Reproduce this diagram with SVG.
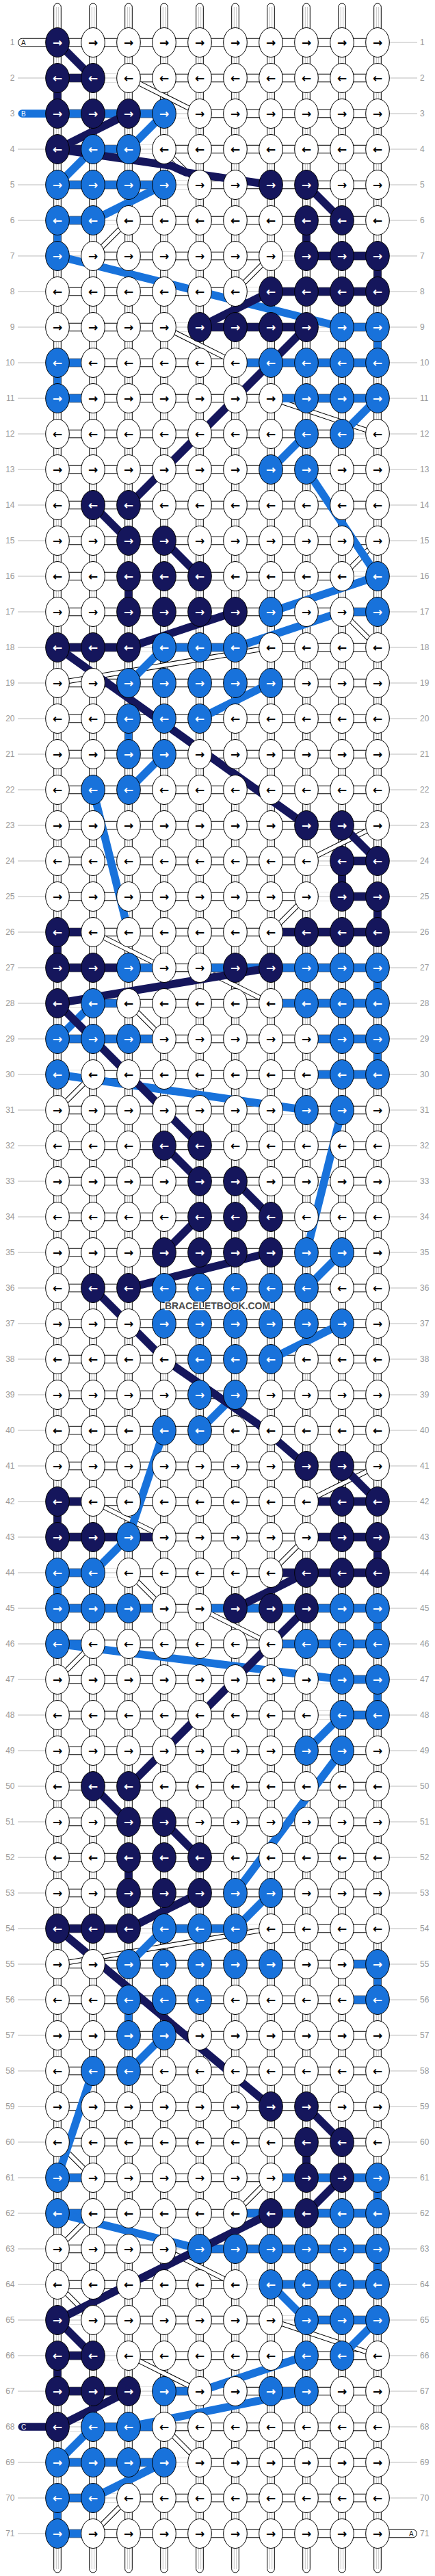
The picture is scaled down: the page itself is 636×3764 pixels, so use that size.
<svg xmlns="http://www.w3.org/2000/svg" xmlns:xlink="http://www.w3.org/1999/xlink" width="636" height="3764" viewBox="0 0 636 3764">
<style>
.a{font-family:'DejaVu Sans',sans-serif;font-weight:bold;font-size:17px;text-anchor:middle}
.kw{fill:#fff;stroke:#000;stroke-width:1}
.kn{fill:#15165c;stroke:#000;stroke-width:1}
.kb{fill:#1872db;stroke:#000;stroke-width:1}
.vc{fill:#fff;stroke:#000;stroke-width:1}
.dn{stroke:#15165c;stroke-width:11.5;fill:none}
.db{stroke:#1872db;stroke-width:11.5;fill:none}
.nl{font-family:'Liberation Sans',Arial,sans-serif;font-size:12px;fill:#999;text-anchor:end}
.nr{font-family:'Liberation Sans',Arial,sans-serif;font-size:12px;fill:#999}
.lt{font-family:'Liberation Sans',Arial,sans-serif;font-size:10px}
</style>
<defs>
<pattern id="pg" patternUnits="userSpaceOnUse" x="0" y="36" width="20" height="52"><path d="M0 26H20" stroke="#bbb"/></pattern>
<pattern id="ph" patternUnits="userSpaceOnUse" x="0" y="36" width="52" height="52"><rect y="20.25" width="52" height="11.5" fill="#fff"/><path d="M0 20.25H52M0 31.75H52" stroke="#000"/></pattern>
<g id="wr"><ellipse rx="17.3" ry="21.5" class="kw"/><text class="a" y="6">→</text></g>
<g id="wl"><ellipse rx="17.3" ry="21.5" class="kw"/><text class="a" y="6">←</text></g>
<g id="nr"><ellipse rx="17.3" ry="21.5" class="kn"/><text class="a" y="6" fill="#fff">→</text></g>
<g id="nl"><ellipse rx="17.3" ry="21.5" class="kn"/><text class="a" y="6" fill="#fff">←</text></g>
<g id="br"><ellipse rx="17.3" ry="21.5" class="kb"/><text class="a" y="6" fill="#fff">→</text></g>
<g id="bl"><ellipse rx="17.3" ry="21.5" class="kb"/><text class="a" y="6" fill="#fff">←</text></g>
<g id="g0"><rect x="16" y="-6.5" width="20" height="13" fill="#fff"/><path d="M16 0H36" stroke="#bbb"/></g>
<rect id="gn" y="-5.75" width="52" height="11.5" fill="#15165c"/>
<rect id="gb" y="-5.75" width="52" height="11.5" fill="#1872db"/>
<rect id="vn" x="-5.3" width="10.6" height="52" fill="#15165c"/>
<rect id="vb" x="-5.3" width="10.6" height="52" fill="#1872db"/>
<path id="thin" d="M188 114L292 166M240 218L292 270M188 322L136 374M396 374L344 426M240 478L344 530M396 582L552 634M552 790L500 842M500 894L552 946M396 946L84 998M552 1206L448 1258M448 1310L396 1362M136 1362L240 1414M292 1414L396 1466M188 1466L240 1518M136 1570L84 1622M552 2142L448 2194M136 2194L240 2246M448 2246L396 2298M188 2298L240 2350M292 2350L396 2402M136 2402L84 2454M396 2818L84 2870M84 3130L136 3182M396 3182L344 3234M136 3234L84 3286M240 3286L344 3338M84 3338L136 3390M396 3390L552 3442M188 3442L292 3494M240 3546L292 3598M188 3650L136 3702"/>
</defs>
<rect width="636" height="3764" fill="#fff"/>
<rect id="guides" x="26" y="36" width="584" height="3692" fill="url(#pg)"/>
<g id="connectors">
<g id="columns">
<rect class="vc" x="78.7" y="5" width="10.6" height="3754" rx="5.3"/>
<rect class="vc" x="130.7" y="5" width="10.6" height="3754" rx="5.3"/>
<rect class="vc" x="182.7" y="5" width="10.6" height="3754" rx="5.3"/>
<rect class="vc" x="234.7" y="5" width="10.6" height="3754" rx="5.3"/>
<rect class="vc" x="286.7" y="5" width="10.6" height="3754" rx="5.3"/>
<rect class="vc" x="338.7" y="5" width="10.6" height="3754" rx="5.3"/>
<rect class="vc" x="390.7" y="5" width="10.6" height="3754" rx="5.3"/>
<rect class="vc" x="442.7" y="5" width="10.6" height="3754" rx="5.3"/>
<rect class="vc" x="494.7" y="5" width="10.6" height="3754" rx="5.3"/>
<rect class="vc" x="546.7" y="5" width="10.6" height="3754" rx="5.3"/>
<path d="M82.3 10V3754M85.7 10V3754M134.3 10V3754M137.7 10V3754M186.3 10V3754M189.7 10V3754M238.3 10V3754M241.7 10V3754M290.3 10V3754M293.7 10V3754M342.3 10V3754M345.7 10V3754M394.3 10V3754M397.7 10V3754M446.3 10V3754M449.7 10V3754M498.3 10V3754M501.7 10V3754M550.3 10V3754M553.7 10V3754" stroke="#b4b4b4" stroke-width="0.8"/>
</g>
<rect id="rows" x="84" y="36" width="468" height="3692" fill="url(#ph)"/>
<g id="gaps">
<use href="#g0" x="136" y="114"/><use href="#g0" x="240" y="166"/><use href="#g0" x="188" y="218"/><use href="#g0" x="240" y="270"/><use href="#g0" x="136" y="322"/>
<use href="#g0" x="84" y="374"/><use href="#g0" x="396" y="374"/><use href="#g0" x="344" y="426"/><use href="#g0" x="240" y="478"/><use href="#g0" x="448" y="478"/>
<use href="#g0" x="500" y="634"/><use href="#g0" x="500" y="842"/><use href="#g0" x="188" y="946"/><use href="#g0" x="344" y="946"/>
<use href="#g0" x="448" y="1258"/><use href="#g0" x="448" y="1310"/><use href="#g0" x="84" y="1466"/><use href="#g0" x="84" y="1570"/><use href="#g0" x="396" y="1622"/>
<use href="#g0" x="136" y="2298"/><use href="#g0" x="448" y="2454"/><use href="#g0" x="448" y="2506"/><use href="#g0" x="188" y="2818"/><use href="#g0" x="344" y="2818"/>
<use href="#g0" x="240" y="3286"/><use href="#g0" x="344" y="3338"/><use href="#g0" x="84" y="3390"/><use href="#g0" x="396" y="3390"/><use href="#g0" x="136" y="3442"/>
<use href="#g0" x="188" y="3494"/><use href="#g0" x="84" y="3546"/><use href="#g0" x="240" y="3598"/><use href="#g0" x="136" y="3650"/>
</g>
<g id="thin-threads" fill="none">
<use href="#thin" stroke="#000" stroke-width="7.5"/>
<use href="#thin" stroke="#fff" stroke-width="5.5"/>
</g>
<g id="colored-segments">
<use href="#gn" x="84" y="114"/>
<use href="#gb" x="84" y="166"/><use href="#gb" x="136" y="166"/><use href="#gb" x="188" y="166"/>
<use href="#gn" x="84" y="218"/><use href="#gb" x="136" y="218"/>
<use href="#gb" x="84" y="270"/><use href="#gb" x="136" y="270"/><use href="#gb" x="188" y="270"/>
<use href="#gb" x="84" y="322"/>
<use href="#gn" x="448" y="374"/><use href="#gn" x="500" y="374"/>
<use href="#gn" x="396" y="426"/><use href="#gn" x="448" y="426"/><use href="#gn" x="500" y="426"/>
<use href="#gn" x="292" y="478"/><use href="#gn" x="344" y="478"/><use href="#gn" x="396" y="478"/><use href="#gb" x="500" y="478"/>
<use href="#gb" x="84" y="530"/><use href="#gb" x="344" y="530"/><use href="#gb" x="396" y="530"/><use href="#gb" x="448" y="530"/><use href="#gb" x="500" y="530"/>
<use href="#gb" x="84" y="582"/><use href="#gb" x="396" y="582"/><use href="#gb" x="448" y="582"/><use href="#gb" x="500" y="582"/>
<use href="#gb" x="500" y="894"/>
<use href="#gn" x="84" y="946"/><use href="#gn" x="136" y="946"/><use href="#gb" x="240" y="946"/><use href="#gb" x="292" y="946"/>
<use href="#gn" x="500" y="1258"/><use href="#gn" x="500" y="1310"/>
<use href="#gn" x="84" y="1362"/><use href="#gn" x="396" y="1362"/><use href="#gn" x="448" y="1362"/><use href="#gn" x="500" y="1362"/>
<use href="#gn" x="84" y="1414"/><use href="#gn" x="136" y="1414"/><use href="#gb" x="188" y="1414"/><use href="#gb" x="292" y="1414"/><use href="#gb" x="344" y="1414"/><use href="#gb" x="396" y="1414"/><use href="#gb" x="448" y="1414"/><use href="#gb" x="500" y="1414"/>
<use href="#gb" x="136" y="1466"/><use href="#gb" x="396" y="1466"/><use href="#gb" x="448" y="1466"/><use href="#gb" x="500" y="1466"/>
<use href="#gb" x="84" y="1518"/><use href="#gb" x="136" y="1518"/><use href="#gb" x="188" y="1518"/><use href="#gb" x="448" y="1518"/><use href="#gb" x="500" y="1518"/>
<use href="#gb" x="448" y="1570"/><use href="#gb" x="500" y="1570"/>
<use href="#gn" x="84" y="2194"/><use href="#gn" x="448" y="2194"/><use href="#gn" x="500" y="2194"/>
<use href="#gn" x="84" y="2246"/><use href="#gn" x="136" y="2246"/><use href="#gn" x="188" y="2246"/><use href="#gn" x="448" y="2246"/><use href="#gn" x="500" y="2246"/>
<use href="#gb" x="84" y="2298"/><use href="#gn" x="396" y="2298"/><use href="#gn" x="448" y="2298"/><use href="#gn" x="500" y="2298"/>
<use href="#gb" x="84" y="2350"/><use href="#gb" x="136" y="2350"/><use href="#gb" x="188" y="2350"/><use href="#gb" x="292" y="2350"/><use href="#gb" x="344" y="2350"/><use href="#gb" x="396" y="2350"/><use href="#gb" x="448" y="2350"/><use href="#gb" x="500" y="2350"/>
<use href="#gb" x="84" y="2402"/><use href="#gb" x="396" y="2402"/><use href="#gb" x="448" y="2402"/><use href="#gb" x="500" y="2402"/>
<use href="#gb" x="500" y="2454"/><use href="#gb" x="500" y="2506"/>
<use href="#gn" x="84" y="2818"/><use href="#gn" x="136" y="2818"/><use href="#gb" x="240" y="2818"/><use href="#gb" x="292" y="2818"/>
<use href="#gb" x="500" y="2870"/><use href="#gb" x="500" y="2922"/>
<use href="#gb" x="84" y="3182"/><use href="#gb" x="396" y="3182"/><use href="#gb" x="448" y="3182"/><use href="#gb" x="500" y="3182"/>
<use href="#gb" x="84" y="3234"/><use href="#gb" x="344" y="3234"/><use href="#gb" x="396" y="3234"/><use href="#gb" x="448" y="3234"/><use href="#gb" x="500" y="3234"/>
<use href="#gb" x="292" y="3286"/><use href="#gb" x="344" y="3286"/><use href="#gb" x="396" y="3286"/><use href="#gb" x="448" y="3286"/><use href="#gb" x="500" y="3286"/>
<use href="#gb" x="396" y="3338"/><use href="#gb" x="448" y="3338"/><use href="#gb" x="500" y="3338"/>
<use href="#gb" x="448" y="3390"/><use href="#gb" x="500" y="3390"/>
<use href="#gn" x="84" y="3442"/>
<use href="#gn" x="84" y="3494"/><use href="#gn" x="136" y="3494"/><use href="#gb" x="240" y="3494"/><use href="#gb" x="396" y="3494"/>
<use href="#gb" x="136" y="3546"/><use href="#gb" x="188" y="3546"/>
<use href="#gb" x="84" y="3598"/><use href="#gb" x="136" y="3598"/><use href="#gb" x="188" y="3598"/>
<use href="#gb" x="84" y="3650"/>
<use href="#gb" x="84" y="3702"/>
<use href="#vn" x="84" y="114"/><use href="#vb" x="84" y="322"/><use href="#vn" x="448" y="322"/><use href="#vn" x="552" y="374"/><use href="#vb" x="552" y="478"/><use href="#vb" x="84" y="530"/>
<use href="#vn" x="188" y="842"/><use href="#vb" x="188" y="1050"/><use href="#vn" x="500" y="1258"/><use href="#vn" x="552" y="1310"/><use href="#vn" x="84" y="1362"/><use href="#vb" x="552" y="1414"/><use href="#vb" x="552" y="1518"/>
<use href="#vn" x="84" y="2194"/><use href="#vn" x="552" y="2246"/><use href="#vb" x="84" y="2298"/><use href="#vb" x="552" y="2350"/><use href="#vb" x="552" y="2454"/>
<use href="#vn" x="188" y="2714"/><use href="#vb" x="552" y="2870"/><use href="#vb" x="188" y="2922"/><use href="#vn" x="448" y="3130"/><use href="#vb" x="552" y="3182"/><use href="#vb" x="552" y="3286"/><use href="#vn" x="84" y="3442"/><use href="#vb" x="84" y="3650"/>
</g>
<g id="blue-threads">
<path class="db" d="M240 166L188 218"/><path class="db" d="M136 218L84 270"/><path class="db" d="M240 270L136 322"/><path class="db" d="M84 374L500 478"/>
<path class="db" d="M552 582L500 634"/><path class="db" d="M448 634L396 686"/><path class="db" d="M448 686L552 842"/><path class="db" d="M552 842L396 894"/>
<path class="db" d="M500 894L344 946"/><path class="db" d="M240 946L188 998"/><path class="db" d="M396 998L292 1050"/><path class="db" d="M240 1102L188 1154"/>
<path class="db" d="M136 1154L188 1362"/><path class="db" d="M136 1466L84 1518"/><path class="db" d="M84 1570L448 1622"/><path class="db" d="M500 1622L448 1830"/>
<path class="db" d="M500 1830L448 1882"/><path class="db" d="M500 1934L396 1986"/><path class="db" d="M344 2038L292 2090"/><path class="db" d="M240 2090L188 2246"/>
<path class="db" d="M188 2246L136 2298"/><path class="db" d="M84 2402L500 2454"/><path class="db" d="M500 2506L448 2558"/><path class="db" d="M500 2558L344 2766"/>
<path class="db" d="M396 2766L344 2818"/><path class="db" d="M240 2818L188 2870"/><path class="db" d="M240 2974L188 3026"/><path class="db" d="M136 3026L84 3182"/>
<path class="db" d="M84 3234L292 3286"/><path class="db" d="M396 3338L448 3390"/><path class="db" d="M552 3390L500 3442"/><path class="db" d="M448 3442L292 3494"/>
<path class="db" d="M448 3494L188 3546"/><path class="db" d="M136 3546L84 3598"/><path class="db" d="M240 3598L136 3650"/>
</g>
<g id="navy-threads">
<path class="dn" d="M84 62L136 114"/><path class="dn" d="M188 166L84 218"/><path class="dn" d="M84 218L250 242L272 252L396 270"/><path class="dn" d="M448 270L500 322"/>
<path class="dn" d="M396 426L292 478"/><path class="dn" d="M448 478L188 738"/><path class="dn" d="M136 738L188 790"/><path class="dn" d="M240 790L292 842"/>
<path class="dn" d="M344 894L188 946"/><path class="dn" d="M84 946L448 1206"/><path class="dn" d="M500 1206L552 1258"/><path class="dn" d="M396 1414L84 1466"/>
<path class="dn" d="M84 1466L292 1674"/><path class="dn" d="M240 1674L292 1726"/><path class="dn" d="M344 1726L396 1778"/><path class="dn" d="M292 1778L240 1830"/>
<path class="dn" d="M396 1830L188 1882"/><path class="dn" d="M136 1882L188 1934"/><path class="dn" d="M188 1934L240 1986"/><path class="dn" d="M240 1986L376 2080L448 2142"/>
<path class="dn" d="M500 2142L552 2194"/><path class="dn" d="M448 2298L344 2350"/><path class="dn" d="M448 2350L188 2610"/><path class="dn" d="M136 2610L188 2662"/>
<path class="dn" d="M240 2662L292 2714"/><path class="dn" d="M292 2766L188 2818"/><path class="dn" d="M84 2818L396 3078"/><path class="dn" d="M448 3078L500 3130"/>
<path class="dn" d="M500 3182L448 3234"/><path class="dn" d="M396 3234L84 3390"/><path class="dn" d="M84 3390L136 3442"/><path class="dn" d="M188 3494L84 3546"/>
</g>
</g>
<g id="labels">
<g id="label-a-start"><rect x="26.5" y="56.25" width="58" height="11.5" rx="5.75" fill="#fff" stroke="#000"/><text class="lt" x="31" y="66" fill="#222">A</text></g>
<g id="label-b"><rect x="26.5" y="160.25" width="58" height="11.5" rx="5.75" fill="#1872db"/><text class="lt" x="31" y="170" fill="#fff">B</text></g>
<g id="label-c"><rect x="26.5" y="3540.25" width="58" height="11.5" rx="5.75" fill="#15165c"/><text class="lt" x="31" y="3550" fill="#fff">C</text></g>
<g id="label-a-end"><rect x="551.5" y="3696.25" width="58" height="11.5" rx="5.75" fill="#fff" stroke="#000"/><text class="lt" x="598" y="3706" fill="#222">A</text></g>
</g>
<g id="knots">
<g id="r1" transform="translate(0,62)"><use href="#nr" x="84"/><use href="#wr" x="136"/><use href="#wr" x="188"/><use href="#wr" x="240"/><use href="#wr" x="292"/><use href="#wr" x="344"/><use href="#wr" x="396"/><use href="#wr" x="448"/><use href="#wr" x="500"/><use href="#wr" x="552"/></g>
<g id="r2" transform="translate(0,114)"><use href="#nl" x="84"/><use href="#nl" x="136"/><use href="#wl" x="188"/><use href="#wl" x="240"/><use href="#wl" x="292"/><use href="#wl" x="344"/><use href="#wl" x="396"/><use href="#wl" x="448"/><use href="#wl" x="500"/><use href="#wl" x="552"/></g>
<g id="r3" transform="translate(0,166)"><use href="#nr" x="84"/><use href="#nr" x="136"/><use href="#nr" x="188"/><use href="#br" x="240"/><use href="#wr" x="292"/><use href="#wr" x="344"/><use href="#wr" x="396"/><use href="#wr" x="448"/><use href="#wr" x="500"/><use href="#wr" x="552"/></g>
<g id="r4" transform="translate(0,218)"><use href="#nl" x="84"/><use href="#bl" x="136"/><use href="#bl" x="188"/><use href="#wl" x="240"/><use href="#wl" x="292"/><use href="#wl" x="344"/><use href="#wl" x="396"/><use href="#wl" x="448"/><use href="#wl" x="500"/><use href="#wl" x="552"/></g>
<g id="r5" transform="translate(0,270)"><use href="#br" x="84"/><use href="#br" x="136"/><use href="#br" x="188"/><use href="#br" x="240"/><use href="#wr" x="292"/><use href="#wr" x="344"/><use href="#nr" x="396"/><use href="#nr" x="448"/><use href="#wr" x="500"/><use href="#wr" x="552"/></g>
<g id="r6" transform="translate(0,322)"><use href="#bl" x="84"/><use href="#bl" x="136"/><use href="#wl" x="188"/><use href="#wl" x="240"/><use href="#wl" x="292"/><use href="#wl" x="344"/><use href="#wl" x="396"/><use href="#nl" x="448"/><use href="#nl" x="500"/><use href="#wl" x="552"/></g>
<g id="r7" transform="translate(0,374)"><use href="#br" x="84"/><use href="#wr" x="136"/><use href="#wr" x="188"/><use href="#wr" x="240"/><use href="#wr" x="292"/><use href="#wr" x="344"/><use href="#wr" x="396"/><use href="#nr" x="448"/><use href="#nr" x="500"/><use href="#nr" x="552"/></g>
<g id="r8" transform="translate(0,426)"><use href="#wl" x="84"/><use href="#wl" x="136"/><use href="#wl" x="188"/><use href="#wl" x="240"/><use href="#wl" x="292"/><use href="#wl" x="344"/><use href="#nl" x="396"/><use href="#nl" x="448"/><use href="#nl" x="500"/><use href="#nl" x="552"/></g>
<g id="r9" transform="translate(0,478)"><use href="#wr" x="84"/><use href="#wr" x="136"/><use href="#wr" x="188"/><use href="#wr" x="240"/><use href="#nr" x="292"/><use href="#nr" x="344"/><use href="#nr" x="396"/><use href="#nr" x="448"/><use href="#br" x="500"/><use href="#br" x="552"/></g>
<g id="r10" transform="translate(0,530)"><use href="#bl" x="84"/><use href="#wl" x="136"/><use href="#wl" x="188"/><use href="#wl" x="240"/><use href="#wl" x="292"/><use href="#wl" x="344"/><use href="#bl" x="396"/><use href="#bl" x="448"/><use href="#bl" x="500"/><use href="#bl" x="552"/></g>
<g id="r11" transform="translate(0,582)"><use href="#br" x="84"/><use href="#wr" x="136"/><use href="#wr" x="188"/><use href="#wr" x="240"/><use href="#wr" x="292"/><use href="#wr" x="344"/><use href="#wr" x="396"/><use href="#br" x="448"/><use href="#br" x="500"/><use href="#br" x="552"/></g>
<g id="r12" transform="translate(0,634)"><use href="#wl" x="84"/><use href="#wl" x="136"/><use href="#wl" x="188"/><use href="#wl" x="240"/><use href="#wl" x="292"/><use href="#wl" x="344"/><use href="#wl" x="396"/><use href="#bl" x="448"/><use href="#bl" x="500"/><use href="#wl" x="552"/></g>
<g id="r13" transform="translate(0,686)"><use href="#wr" x="84"/><use href="#wr" x="136"/><use href="#wr" x="188"/><use href="#wr" x="240"/><use href="#wr" x="292"/><use href="#wr" x="344"/><use href="#br" x="396"/><use href="#br" x="448"/><use href="#wr" x="500"/><use href="#wr" x="552"/></g>
<g id="r14" transform="translate(0,738)"><use href="#wl" x="84"/><use href="#nl" x="136"/><use href="#nl" x="188"/><use href="#wl" x="240"/><use href="#wl" x="292"/><use href="#wl" x="344"/><use href="#wl" x="396"/><use href="#wl" x="448"/><use href="#wl" x="500"/><use href="#wl" x="552"/></g>
<g id="r15" transform="translate(0,790)"><use href="#wr" x="84"/><use href="#wr" x="136"/><use href="#nr" x="188"/><use href="#nr" x="240"/><use href="#wr" x="292"/><use href="#wr" x="344"/><use href="#wr" x="396"/><use href="#wr" x="448"/><use href="#wr" x="500"/><use href="#wr" x="552"/></g>
<g id="r16" transform="translate(0,842)"><use href="#wl" x="84"/><use href="#wl" x="136"/><use href="#nl" x="188"/><use href="#nl" x="240"/><use href="#nl" x="292"/><use href="#wl" x="344"/><use href="#wl" x="396"/><use href="#wl" x="448"/><use href="#wl" x="500"/><use href="#bl" x="552"/></g>
<g id="r17" transform="translate(0,894)"><use href="#wr" x="84"/><use href="#wr" x="136"/><use href="#nr" x="188"/><use href="#nr" x="240"/><use href="#nr" x="292"/><use href="#nr" x="344"/><use href="#br" x="396"/><use href="#wr" x="448"/><use href="#wr" x="500"/><use href="#br" x="552"/></g>
<g id="r18" transform="translate(0,946)"><use href="#nl" x="84"/><use href="#nl" x="136"/><use href="#nl" x="188"/><use href="#bl" x="240"/><use href="#bl" x="292"/><use href="#bl" x="344"/><use href="#wl" x="396"/><use href="#wl" x="448"/><use href="#wl" x="500"/><use href="#wl" x="552"/></g>
<g id="r19" transform="translate(0,998)"><use href="#wr" x="84"/><use href="#wr" x="136"/><use href="#br" x="188"/><use href="#br" x="240"/><use href="#br" x="292"/><use href="#br" x="344"/><use href="#br" x="396"/><use href="#wr" x="448"/><use href="#wr" x="500"/><use href="#wr" x="552"/></g>
<g id="r20" transform="translate(0,1050)"><use href="#wl" x="84"/><use href="#wl" x="136"/><use href="#bl" x="188"/><use href="#bl" x="240"/><use href="#bl" x="292"/><use href="#wl" x="344"/><use href="#wl" x="396"/><use href="#wl" x="448"/><use href="#wl" x="500"/><use href="#wl" x="552"/></g>
<g id="r21" transform="translate(0,1102)"><use href="#wr" x="84"/><use href="#wr" x="136"/><use href="#br" x="188"/><use href="#br" x="240"/><use href="#wr" x="292"/><use href="#wr" x="344"/><use href="#wr" x="396"/><use href="#wr" x="448"/><use href="#wr" x="500"/><use href="#wr" x="552"/></g>
<g id="r22" transform="translate(0,1154)"><use href="#wl" x="84"/><use href="#bl" x="136"/><use href="#bl" x="188"/><use href="#wl" x="240"/><use href="#wl" x="292"/><use href="#wl" x="344"/><use href="#wl" x="396"/><use href="#wl" x="448"/><use href="#wl" x="500"/><use href="#wl" x="552"/></g>
<g id="r23" transform="translate(0,1206)"><use href="#wr" x="84"/><use href="#wr" x="136"/><use href="#wr" x="188"/><use href="#wr" x="240"/><use href="#wr" x="292"/><use href="#wr" x="344"/><use href="#wr" x="396"/><use href="#nr" x="448"/><use href="#nr" x="500"/><use href="#wr" x="552"/></g>
<g id="r24" transform="translate(0,1258)"><use href="#wl" x="84"/><use href="#wl" x="136"/><use href="#wl" x="188"/><use href="#wl" x="240"/><use href="#wl" x="292"/><use href="#wl" x="344"/><use href="#wl" x="396"/><use href="#wl" x="448"/><use href="#nl" x="500"/><use href="#nl" x="552"/></g>
<g id="r25" transform="translate(0,1310)"><use href="#wr" x="84"/><use href="#wr" x="136"/><use href="#wr" x="188"/><use href="#wr" x="240"/><use href="#wr" x="292"/><use href="#wr" x="344"/><use href="#wr" x="396"/><use href="#wr" x="448"/><use href="#nr" x="500"/><use href="#nr" x="552"/></g>
<g id="r26" transform="translate(0,1362)"><use href="#nl" x="84"/><use href="#wl" x="136"/><use href="#wl" x="188"/><use href="#wl" x="240"/><use href="#wl" x="292"/><use href="#wl" x="344"/><use href="#wl" x="396"/><use href="#nl" x="448"/><use href="#nl" x="500"/><use href="#nl" x="552"/></g>
<g id="r27" transform="translate(0,1414)"><use href="#nr" x="84"/><use href="#nr" x="136"/><use href="#br" x="188"/><use href="#wr" x="240"/><use href="#wr" x="292"/><use href="#nr" x="344"/><use href="#nr" x="396"/><use href="#br" x="448"/><use href="#br" x="500"/><use href="#br" x="552"/></g>
<g id="r28" transform="translate(0,1466)"><use href="#nl" x="84"/><use href="#bl" x="136"/><use href="#wl" x="188"/><use href="#wl" x="240"/><use href="#wl" x="292"/><use href="#wl" x="344"/><use href="#wl" x="396"/><use href="#bl" x="448"/><use href="#bl" x="500"/><use href="#bl" x="552"/></g>
<g id="r29" transform="translate(0,1518)"><use href="#br" x="84"/><use href="#br" x="136"/><use href="#br" x="188"/><use href="#wr" x="240"/><use href="#wr" x="292"/><use href="#wr" x="344"/><use href="#wr" x="396"/><use href="#wr" x="448"/><use href="#br" x="500"/><use href="#br" x="552"/></g>
<g id="r30" transform="translate(0,1570)"><use href="#bl" x="84"/><use href="#wl" x="136"/><use href="#wl" x="188"/><use href="#wl" x="240"/><use href="#wl" x="292"/><use href="#wl" x="344"/><use href="#wl" x="396"/><use href="#wl" x="448"/><use href="#bl" x="500"/><use href="#bl" x="552"/></g>
<g id="r31" transform="translate(0,1622)"><use href="#wr" x="84"/><use href="#wr" x="136"/><use href="#wr" x="188"/><use href="#wr" x="240"/><use href="#wr" x="292"/><use href="#wr" x="344"/><use href="#wr" x="396"/><use href="#br" x="448"/><use href="#br" x="500"/><use href="#wr" x="552"/></g>
<g id="r32" transform="translate(0,1674)"><use href="#wl" x="84"/><use href="#wl" x="136"/><use href="#wl" x="188"/><use href="#nl" x="240"/><use href="#nl" x="292"/><use href="#wl" x="344"/><use href="#wl" x="396"/><use href="#wl" x="448"/><use href="#wl" x="500"/><use href="#wl" x="552"/></g>
<g id="r33" transform="translate(0,1726)"><use href="#wr" x="84"/><use href="#wr" x="136"/><use href="#wr" x="188"/><use href="#wr" x="240"/><use href="#nr" x="292"/><use href="#nr" x="344"/><use href="#wr" x="396"/><use href="#wr" x="448"/><use href="#wr" x="500"/><use href="#wr" x="552"/></g>
<g id="r34" transform="translate(0,1778)"><use href="#wl" x="84"/><use href="#wl" x="136"/><use href="#wl" x="188"/><use href="#wl" x="240"/><use href="#nl" x="292"/><use href="#nl" x="344"/><use href="#nl" x="396"/><use href="#wl" x="448"/><use href="#wl" x="500"/><use href="#wl" x="552"/></g>
<g id="r35" transform="translate(0,1830)"><use href="#wr" x="84"/><use href="#wr" x="136"/><use href="#wr" x="188"/><use href="#nr" x="240"/><use href="#nr" x="292"/><use href="#nr" x="344"/><use href="#nr" x="396"/><use href="#br" x="448"/><use href="#br" x="500"/><use href="#wr" x="552"/></g>
<g id="r36" transform="translate(0,1882)"><use href="#wl" x="84"/><use href="#nl" x="136"/><use href="#nl" x="188"/><use href="#bl" x="240"/><use href="#bl" x="292"/><use href="#bl" x="344"/><use href="#bl" x="396"/><use href="#bl" x="448"/><use href="#wl" x="500"/><use href="#wl" x="552"/></g>
<g id="r37" transform="translate(0,1934)"><use href="#wr" x="84"/><use href="#wr" x="136"/><use href="#wr" x="188"/><use href="#br" x="240"/><use href="#br" x="292"/><use href="#br" x="344"/><use href="#br" x="396"/><use href="#br" x="448"/><use href="#br" x="500"/><use href="#wr" x="552"/></g>
<g id="r38" transform="translate(0,1986)"><use href="#wl" x="84"/><use href="#wl" x="136"/><use href="#wl" x="188"/><use href="#wl" x="240"/><use href="#bl" x="292"/><use href="#bl" x="344"/><use href="#bl" x="396"/><use href="#wl" x="448"/><use href="#wl" x="500"/><use href="#wl" x="552"/></g>
<g id="r39" transform="translate(0,2038)"><use href="#wr" x="84"/><use href="#wr" x="136"/><use href="#wr" x="188"/><use href="#wr" x="240"/><use href="#br" x="292"/><use href="#br" x="344"/><use href="#wr" x="396"/><use href="#wr" x="448"/><use href="#wr" x="500"/><use href="#wr" x="552"/></g>
<g id="r40" transform="translate(0,2090)"><use href="#wl" x="84"/><use href="#wl" x="136"/><use href="#wl" x="188"/><use href="#bl" x="240"/><use href="#bl" x="292"/><use href="#wl" x="344"/><use href="#wl" x="396"/><use href="#wl" x="448"/><use href="#wl" x="500"/><use href="#wl" x="552"/></g>
<g id="r41" transform="translate(0,2142)"><use href="#wr" x="84"/><use href="#wr" x="136"/><use href="#wr" x="188"/><use href="#wr" x="240"/><use href="#wr" x="292"/><use href="#wr" x="344"/><use href="#wr" x="396"/><use href="#nr" x="448"/><use href="#nr" x="500"/><use href="#wr" x="552"/></g>
<g id="r42" transform="translate(0,2194)"><use href="#nl" x="84"/><use href="#wl" x="136"/><use href="#wl" x="188"/><use href="#wl" x="240"/><use href="#wl" x="292"/><use href="#wl" x="344"/><use href="#wl" x="396"/><use href="#wl" x="448"/><use href="#nl" x="500"/><use href="#nl" x="552"/></g>
<g id="r43" transform="translate(0,2246)"><use href="#nr" x="84"/><use href="#nr" x="136"/><use href="#br" x="188"/><use href="#wr" x="240"/><use href="#wr" x="292"/><use href="#wr" x="344"/><use href="#wr" x="396"/><use href="#wr" x="448"/><use href="#nr" x="500"/><use href="#nr" x="552"/></g>
<g id="r44" transform="translate(0,2298)"><use href="#bl" x="84"/><use href="#bl" x="136"/><use href="#wl" x="188"/><use href="#wl" x="240"/><use href="#wl" x="292"/><use href="#wl" x="344"/><use href="#wl" x="396"/><use href="#nl" x="448"/><use href="#nl" x="500"/><use href="#nl" x="552"/></g>
<g id="r45" transform="translate(0,2350)"><use href="#br" x="84"/><use href="#br" x="136"/><use href="#br" x="188"/><use href="#wr" x="240"/><use href="#wr" x="292"/><use href="#nr" x="344"/><use href="#nr" x="396"/><use href="#nr" x="448"/><use href="#br" x="500"/><use href="#br" x="552"/></g>
<g id="r46" transform="translate(0,2402)"><use href="#bl" x="84"/><use href="#wl" x="136"/><use href="#wl" x="188"/><use href="#wl" x="240"/><use href="#wl" x="292"/><use href="#wl" x="344"/><use href="#wl" x="396"/><use href="#bl" x="448"/><use href="#bl" x="500"/><use href="#bl" x="552"/></g>
<g id="r47" transform="translate(0,2454)"><use href="#wr" x="84"/><use href="#wr" x="136"/><use href="#wr" x="188"/><use href="#wr" x="240"/><use href="#wr" x="292"/><use href="#wr" x="344"/><use href="#wr" x="396"/><use href="#wr" x="448"/><use href="#br" x="500"/><use href="#br" x="552"/></g>
<g id="r48" transform="translate(0,2506)"><use href="#wl" x="84"/><use href="#wl" x="136"/><use href="#wl" x="188"/><use href="#wl" x="240"/><use href="#wl" x="292"/><use href="#wl" x="344"/><use href="#wl" x="396"/><use href="#wl" x="448"/><use href="#bl" x="500"/><use href="#bl" x="552"/></g>
<g id="r49" transform="translate(0,2558)"><use href="#wr" x="84"/><use href="#wr" x="136"/><use href="#wr" x="188"/><use href="#wr" x="240"/><use href="#wr" x="292"/><use href="#wr" x="344"/><use href="#wr" x="396"/><use href="#br" x="448"/><use href="#br" x="500"/><use href="#wr" x="552"/></g>
<g id="r50" transform="translate(0,2610)"><use href="#wl" x="84"/><use href="#nl" x="136"/><use href="#nl" x="188"/><use href="#wl" x="240"/><use href="#wl" x="292"/><use href="#wl" x="344"/><use href="#wl" x="396"/><use href="#wl" x="448"/><use href="#wl" x="500"/><use href="#wl" x="552"/></g>
<g id="r51" transform="translate(0,2662)"><use href="#wr" x="84"/><use href="#wr" x="136"/><use href="#nr" x="188"/><use href="#nr" x="240"/><use href="#wr" x="292"/><use href="#wr" x="344"/><use href="#wr" x="396"/><use href="#wr" x="448"/><use href="#wr" x="500"/><use href="#wr" x="552"/></g>
<g id="r52" transform="translate(0,2714)"><use href="#wl" x="84"/><use href="#wl" x="136"/><use href="#nl" x="188"/><use href="#nl" x="240"/><use href="#nl" x="292"/><use href="#wl" x="344"/><use href="#wl" x="396"/><use href="#wl" x="448"/><use href="#wl" x="500"/><use href="#wl" x="552"/></g>
<g id="r53" transform="translate(0,2766)"><use href="#wr" x="84"/><use href="#wr" x="136"/><use href="#nr" x="188"/><use href="#nr" x="240"/><use href="#nr" x="292"/><use href="#br" x="344"/><use href="#br" x="396"/><use href="#wr" x="448"/><use href="#wr" x="500"/><use href="#wr" x="552"/></g>
<g id="r54" transform="translate(0,2818)"><use href="#nl" x="84"/><use href="#nl" x="136"/><use href="#nl" x="188"/><use href="#bl" x="240"/><use href="#bl" x="292"/><use href="#bl" x="344"/><use href="#wl" x="396"/><use href="#wl" x="448"/><use href="#wl" x="500"/><use href="#wl" x="552"/></g>
<g id="r55" transform="translate(0,2870)"><use href="#wr" x="84"/><use href="#wr" x="136"/><use href="#br" x="188"/><use href="#br" x="240"/><use href="#br" x="292"/><use href="#br" x="344"/><use href="#br" x="396"/><use href="#wr" x="448"/><use href="#wr" x="500"/><use href="#br" x="552"/></g>
<g id="r56" transform="translate(0,2922)"><use href="#wl" x="84"/><use href="#wl" x="136"/><use href="#bl" x="188"/><use href="#bl" x="240"/><use href="#bl" x="292"/><use href="#wl" x="344"/><use href="#wl" x="396"/><use href="#wl" x="448"/><use href="#wl" x="500"/><use href="#bl" x="552"/></g>
<g id="r57" transform="translate(0,2974)"><use href="#wr" x="84"/><use href="#wr" x="136"/><use href="#br" x="188"/><use href="#br" x="240"/><use href="#wr" x="292"/><use href="#wr" x="344"/><use href="#wr" x="396"/><use href="#wr" x="448"/><use href="#wr" x="500"/><use href="#wr" x="552"/></g>
<g id="r58" transform="translate(0,3026)"><use href="#wl" x="84"/><use href="#bl" x="136"/><use href="#bl" x="188"/><use href="#wl" x="240"/><use href="#wl" x="292"/><use href="#wl" x="344"/><use href="#wl" x="396"/><use href="#wl" x="448"/><use href="#wl" x="500"/><use href="#wl" x="552"/></g>
<g id="r59" transform="translate(0,3078)"><use href="#wr" x="84"/><use href="#wr" x="136"/><use href="#wr" x="188"/><use href="#wr" x="240"/><use href="#wr" x="292"/><use href="#wr" x="344"/><use href="#nr" x="396"/><use href="#nr" x="448"/><use href="#wr" x="500"/><use href="#wr" x="552"/></g>
<g id="r60" transform="translate(0,3130)"><use href="#wl" x="84"/><use href="#wl" x="136"/><use href="#wl" x="188"/><use href="#wl" x="240"/><use href="#wl" x="292"/><use href="#wl" x="344"/><use href="#wl" x="396"/><use href="#nl" x="448"/><use href="#nl" x="500"/><use href="#wl" x="552"/></g>
<g id="r61" transform="translate(0,3182)"><use href="#br" x="84"/><use href="#wr" x="136"/><use href="#wr" x="188"/><use href="#wr" x="240"/><use href="#wr" x="292"/><use href="#wr" x="344"/><use href="#wr" x="396"/><use href="#nr" x="448"/><use href="#nr" x="500"/><use href="#br" x="552"/></g>
<g id="r62" transform="translate(0,3234)"><use href="#bl" x="84"/><use href="#wl" x="136"/><use href="#wl" x="188"/><use href="#wl" x="240"/><use href="#wl" x="292"/><use href="#wl" x="344"/><use href="#nl" x="396"/><use href="#nl" x="448"/><use href="#bl" x="500"/><use href="#bl" x="552"/></g>
<g id="r63" transform="translate(0,3286)"><use href="#wr" x="84"/><use href="#wr" x="136"/><use href="#wr" x="188"/><use href="#wr" x="240"/><use href="#br" x="292"/><use href="#br" x="344"/><use href="#br" x="396"/><use href="#br" x="448"/><use href="#br" x="500"/><use href="#br" x="552"/></g>
<g id="r64" transform="translate(0,3338)"><use href="#wl" x="84"/><use href="#wl" x="136"/><use href="#wl" x="188"/><use href="#wl" x="240"/><use href="#wl" x="292"/><use href="#wl" x="344"/><use href="#bl" x="396"/><use href="#bl" x="448"/><use href="#bl" x="500"/><use href="#bl" x="552"/></g>
<g id="r65" transform="translate(0,3390)"><use href="#nr" x="84"/><use href="#wr" x="136"/><use href="#wr" x="188"/><use href="#wr" x="240"/><use href="#wr" x="292"/><use href="#wr" x="344"/><use href="#wr" x="396"/><use href="#br" x="448"/><use href="#br" x="500"/><use href="#br" x="552"/></g>
<g id="r66" transform="translate(0,3442)"><use href="#nl" x="84"/><use href="#nl" x="136"/><use href="#wl" x="188"/><use href="#wl" x="240"/><use href="#wl" x="292"/><use href="#wl" x="344"/><use href="#wl" x="396"/><use href="#bl" x="448"/><use href="#bl" x="500"/><use href="#wl" x="552"/></g>
<g id="r67" transform="translate(0,3494)"><use href="#nr" x="84"/><use href="#nr" x="136"/><use href="#nr" x="188"/><use href="#br" x="240"/><use href="#wr" x="292"/><use href="#wr" x="344"/><use href="#br" x="396"/><use href="#br" x="448"/><use href="#wr" x="500"/><use href="#wr" x="552"/></g>
<g id="r68" transform="translate(0,3546)"><use href="#nl" x="84"/><use href="#bl" x="136"/><use href="#bl" x="188"/><use href="#wl" x="240"/><use href="#wl" x="292"/><use href="#wl" x="344"/><use href="#wl" x="396"/><use href="#wl" x="448"/><use href="#wl" x="500"/><use href="#wl" x="552"/></g>
<g id="r69" transform="translate(0,3598)"><use href="#br" x="84"/><use href="#br" x="136"/><use href="#br" x="188"/><use href="#br" x="240"/><use href="#wr" x="292"/><use href="#wr" x="344"/><use href="#wr" x="396"/><use href="#wr" x="448"/><use href="#wr" x="500"/><use href="#wr" x="552"/></g>
<g id="r70" transform="translate(0,3650)"><use href="#bl" x="84"/><use href="#bl" x="136"/><use href="#wl" x="188"/><use href="#wl" x="240"/><use href="#wl" x="292"/><use href="#wl" x="344"/><use href="#wl" x="396"/><use href="#wl" x="448"/><use href="#wl" x="500"/><use href="#wl" x="552"/></g>
<g id="r71" transform="translate(0,3702)"><use href="#br" x="84"/><use href="#wr" x="136"/><use href="#wr" x="188"/><use href="#wr" x="240"/><use href="#wr" x="292"/><use href="#wr" x="344"/><use href="#wr" x="396"/><use href="#wr" x="448"/><use href="#wr" x="500"/><use href="#wr" x="552"/></g>
</g>
<g id="row-numbers-left">
<text class="nl" x="21.5" y="66">1</text><text class="nl" x="21.5" y="118">2</text><text class="nl" x="21.5" y="170">3</text><text class="nl" x="21.5" y="222">4</text><text class="nl" x="21.5" y="274">5</text><text class="nl" x="21.5" y="326">6</text><text class="nl" x="21.5" y="378">7</text><text class="nl" x="21.5" y="430">8</text><text class="nl" x="21.5" y="482">9</text><text class="nl" x="21.5" y="534">10</text>
<text class="nl" x="21.5" y="586">11</text><text class="nl" x="21.5" y="638">12</text><text class="nl" x="21.5" y="690">13</text><text class="nl" x="21.5" y="742">14</text><text class="nl" x="21.5" y="794">15</text><text class="nl" x="21.5" y="846">16</text><text class="nl" x="21.5" y="898">17</text><text class="nl" x="21.5" y="950">18</text><text class="nl" x="21.5" y="1002">19</text><text class="nl" x="21.5" y="1054">20</text>
<text class="nl" x="21.5" y="1106">21</text><text class="nl" x="21.5" y="1158">22</text><text class="nl" x="21.5" y="1210">23</text><text class="nl" x="21.5" y="1262">24</text><text class="nl" x="21.5" y="1314">25</text><text class="nl" x="21.5" y="1366">26</text><text class="nl" x="21.5" y="1418">27</text><text class="nl" x="21.5" y="1470">28</text><text class="nl" x="21.5" y="1522">29</text><text class="nl" x="21.5" y="1574">30</text>
<text class="nl" x="21.5" y="1626">31</text><text class="nl" x="21.5" y="1678">32</text><text class="nl" x="21.5" y="1730">33</text><text class="nl" x="21.5" y="1782">34</text><text class="nl" x="21.5" y="1834">35</text><text class="nl" x="21.5" y="1886">36</text><text class="nl" x="21.5" y="1938">37</text><text class="nl" x="21.5" y="1990">38</text><text class="nl" x="21.5" y="2042">39</text><text class="nl" x="21.5" y="2094">40</text>
<text class="nl" x="21.5" y="2146">41</text><text class="nl" x="21.5" y="2198">42</text><text class="nl" x="21.5" y="2250">43</text><text class="nl" x="21.5" y="2302">44</text><text class="nl" x="21.5" y="2354">45</text><text class="nl" x="21.5" y="2406">46</text><text class="nl" x="21.5" y="2458">47</text><text class="nl" x="21.5" y="2510">48</text><text class="nl" x="21.5" y="2562">49</text><text class="nl" x="21.5" y="2614">50</text>
<text class="nl" x="21.5" y="2666">51</text><text class="nl" x="21.5" y="2718">52</text><text class="nl" x="21.5" y="2770">53</text><text class="nl" x="21.5" y="2822">54</text><text class="nl" x="21.5" y="2874">55</text><text class="nl" x="21.5" y="2926">56</text><text class="nl" x="21.5" y="2978">57</text><text class="nl" x="21.5" y="3030">58</text><text class="nl" x="21.5" y="3082">59</text><text class="nl" x="21.5" y="3134">60</text>
<text class="nl" x="21.5" y="3186">61</text><text class="nl" x="21.5" y="3238">62</text><text class="nl" x="21.5" y="3290">63</text><text class="nl" x="21.5" y="3342">64</text><text class="nl" x="21.5" y="3394">65</text><text class="nl" x="21.5" y="3446">66</text><text class="nl" x="21.5" y="3498">67</text><text class="nl" x="21.5" y="3550">68</text><text class="nl" x="21.5" y="3602">69</text><text class="nl" x="21.5" y="3654">70</text>
<text class="nl" x="21.5" y="3706">71</text>
</g>
<g id="row-numbers-right">
<text class="nr" x="614" y="66">1</text><text class="nr" x="614" y="118">2</text><text class="nr" x="614" y="170">3</text><text class="nr" x="614" y="222">4</text><text class="nr" x="614" y="274">5</text><text class="nr" x="614" y="326">6</text><text class="nr" x="614" y="378">7</text><text class="nr" x="614" y="430">8</text><text class="nr" x="614" y="482">9</text><text class="nr" x="614" y="534">10</text>
<text class="nr" x="614" y="586">11</text><text class="nr" x="614" y="638">12</text><text class="nr" x="614" y="690">13</text><text class="nr" x="614" y="742">14</text><text class="nr" x="614" y="794">15</text><text class="nr" x="614" y="846">16</text><text class="nr" x="614" y="898">17</text><text class="nr" x="614" y="950">18</text><text class="nr" x="614" y="1002">19</text><text class="nr" x="614" y="1054">20</text>
<text class="nr" x="614" y="1106">21</text><text class="nr" x="614" y="1158">22</text><text class="nr" x="614" y="1210">23</text><text class="nr" x="614" y="1262">24</text><text class="nr" x="614" y="1314">25</text><text class="nr" x="614" y="1366">26</text><text class="nr" x="614" y="1418">27</text><text class="nr" x="614" y="1470">28</text><text class="nr" x="614" y="1522">29</text><text class="nr" x="614" y="1574">30</text>
<text class="nr" x="614" y="1626">31</text><text class="nr" x="614" y="1678">32</text><text class="nr" x="614" y="1730">33</text><text class="nr" x="614" y="1782">34</text><text class="nr" x="614" y="1834">35</text><text class="nr" x="614" y="1886">36</text><text class="nr" x="614" y="1938">37</text><text class="nr" x="614" y="1990">38</text><text class="nr" x="614" y="2042">39</text><text class="nr" x="614" y="2094">40</text>
<text class="nr" x="614" y="2146">41</text><text class="nr" x="614" y="2198">42</text><text class="nr" x="614" y="2250">43</text><text class="nr" x="614" y="2302">44</text><text class="nr" x="614" y="2354">45</text><text class="nr" x="614" y="2406">46</text><text class="nr" x="614" y="2458">47</text><text class="nr" x="614" y="2510">48</text><text class="nr" x="614" y="2562">49</text><text class="nr" x="614" y="2614">50</text>
<text class="nr" x="614" y="2666">51</text><text class="nr" x="614" y="2718">52</text><text class="nr" x="614" y="2770">53</text><text class="nr" x="614" y="2822">54</text><text class="nr" x="614" y="2874">55</text><text class="nr" x="614" y="2926">56</text><text class="nr" x="614" y="2978">57</text><text class="nr" x="614" y="3030">58</text><text class="nr" x="614" y="3082">59</text><text class="nr" x="614" y="3134">60</text>
<text class="nr" x="614" y="3186">61</text><text class="nr" x="614" y="3238">62</text><text class="nr" x="614" y="3290">63</text><text class="nr" x="614" y="3342">64</text><text class="nr" x="614" y="3394">65</text><text class="nr" x="614" y="3446">66</text><text class="nr" x="614" y="3498">67</text><text class="nr" x="614" y="3550">68</text><text class="nr" x="614" y="3602">69</text><text class="nr" x="614" y="3654">70</text>
<text class="nr" x="614" y="3706">71</text>
</g>
<text id="watermark" x="318" y="1913" text-anchor="middle" textLength="154" lengthAdjust="spacingAndGlyphs" style="font-family:'Liberation Sans',Arial,sans-serif;font-weight:bold;font-size:15px;fill:#4a4a4a;stroke:#fff;stroke-width:2.5;paint-order:stroke">BRACELETBOOK.COM</text>
</svg>
